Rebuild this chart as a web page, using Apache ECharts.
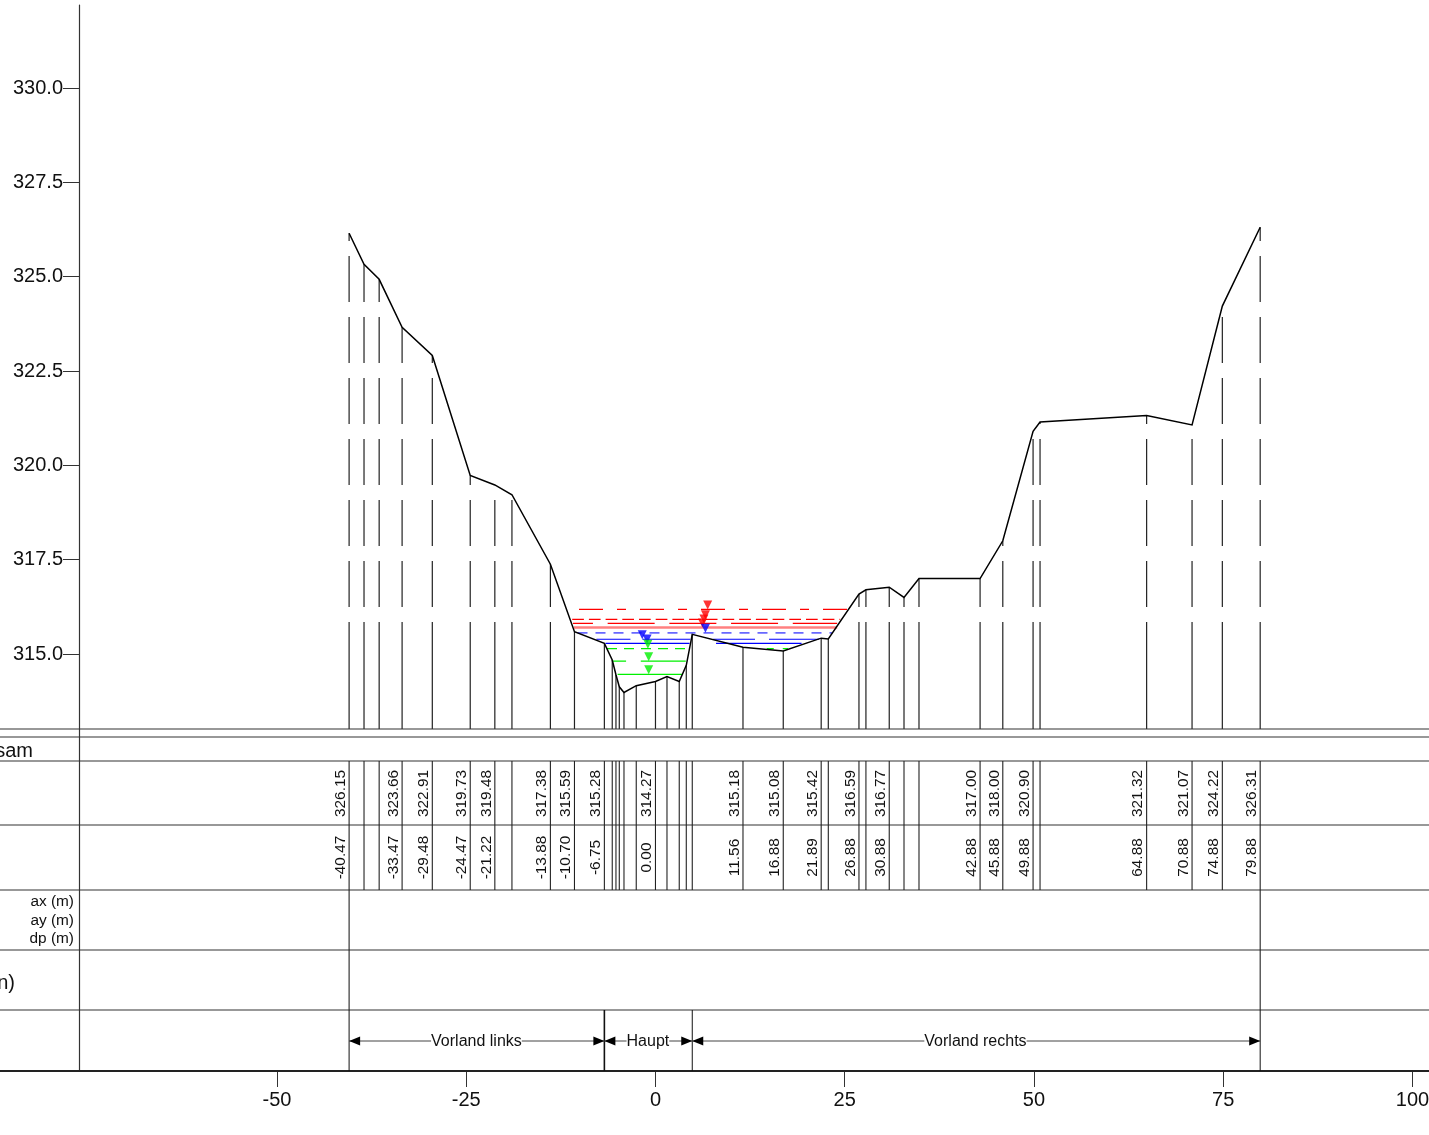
<!DOCTYPE html>
<html><head><meta charset="utf-8">
<style>html,body{margin:0;padding:0;background:#fff}#c{width:1429px;height:1135px}</style>
<script src="https://cdn.jsdelivr.net/npm/echarts@6/dist/echarts.min.js"></script>
</head><body><div id="c"></div>
<script>
// ---- cross-section data ----
const stations = [-40.47,-38.5,-36.5,-33.47,-29.48,-24.47,-21.22,-18.96,-13.88,-10.70,-6.75,-5.71,-5.22,-4.78,-4.16,-2.54,0.00,1.52,3.14,4.07,4.86,11.56,16.88,21.89,22.83,26.88,27.8,30.88,32.83,34.81,42.88,45.88,49.88,50.8,64.88,70.88,74.88,79.88];
const elevations = [326.15,325.33,324.93,323.66,322.91,319.73,319.48,319.22,317.38,315.59,315.28,314.84,314.45,314.13,313.98,314.16,314.27,314.4,314.27,314.7,315.52,315.18,315.08,315.42,315.4,316.59,316.7,316.77,316.5,317.0,317.00,318.00,320.90,321.15,321.32,321.07,324.22,326.31];
const labelStations = [-40.47,-33.47,-29.48,-24.47,-21.22,-13.88,-10.70,-6.75,0.00,11.56,16.88,21.89,26.88,30.88,42.88,45.88,49.88,64.88,70.88,74.88,79.88];
const labelElevations = ['326.15','323.66','322.91','319.73','319.48','317.38','315.59','315.28','314.27','315.18','315.08','315.42','316.59','316.77','317.00','318.00','320.90','321.32','321.07','324.22','326.31'];
const labelDistances = ['-40.47','-33.47','-29.48','-24.47','-21.22','-13.88','-10.70','-6.75','0.00','11.56','16.88','21.89','26.88','30.88','42.88','45.88','49.88','64.88','70.88','74.88','79.88'];
const yTicks = [315,317.5,320,322.5,325,327.5,330];
const xTicks = [-50,-25,0,25,50,75,100];
// water levels: [from station, to station, level]
const redLevels = [[-10.1,25.4,316.18],[-11,24.4,315.92],[-10.9,24,315.81],[-10.8,24,315.70]];
const blueLevel1 = [-10.3,23.4,315.56];
const blueLevel2 = [[-7.8,4.6,315.39],[7.6,21.6,315.39]];
const blueLevel3 = [[-6.6,4.5,315.28],[8.0,19.3,315.28]];
const greenLevel1 = [[-6.4,4.5,315.14],[14.7,17.5,315.14]];
const greenLevel2 = [-5.6,4.0,314.81];
const greenLevel3 = [-5.0,3.5,314.46];
const redMarks = [[6.9,316.18],[6.6,315.92],[6.4,315.81],[6.2,315.70]];
const blueMarks = [[6.6,315.56],[-1.75,315.39],[-1.1,315.28]];
const greenMarks = [[-1.0,315.14],[-0.9,314.81],[-0.9,314.46]];
const sections = [['Vorland links',-40.47,-6.75,-23.65],['Haupt',-6.75,4.86,-1.0],['Vorland rechts',4.86,79.88,42.27]];
const sectionBounds = [-40.47,-6.75,4.86,79.88];
const rowLines = [729,737,761,825,890,950,1010,1071];

// ---- plot geometry ----
const G_L=79, G_R=0, X_MIN=-76.15, X_MAX=102.18;
const Y_MIN=313.012, Y_MAX=332.2;
const TOP=5, PLOT_H=724, TABLE_TOP=729, TABLE_BOTTOM=1071;
const FONT='"Liberation Sans", Arial, sans-serif';
const INK='#111';
const GREEN='#00f000';

const profile = stations.map((x,i)=>[x,elevations[i]]);
const dropDash = [107,15,46,15,46,15,46,15,46,15,46,15,46,15,46,15,46,15,46,15,46,15];

function lev(pts,color,width,dash,offset){
  return {type:'line',xAxisIndex:0,yAxisIndex:0,data:pts,symbol:'none',silent:true,z:3,
    lineStyle:{color,width,type:dash||'solid',dashOffset:offset||0},animation:false};
}
function seg(s,color,width,dash,offset){return lev([[s[0],s[2]],[s[1],s[2]]],color,width,dash,offset);}
function marks(d,color){
  return {type:'scatter',xAxisIndex:0,yAxisIndex:0,data:d,symbol:'triangle',symbolSize:[9,9],symbolRotate:180,
    symbolOffset:[0,-4.5],itemStyle:{color},z:4,silent:true,animation:false};
}

const series = [
  {type:'custom',xAxisIndex:0,yAxisIndex:0,data:profile,z:2,silent:true,animation:false,clip:false,
    renderItem(p,api){
      const a=api.coord([api.value(0),Y_MIN]), b=api.coord([api.value(0),api.value(1)]);
      return {type:'line',shape:{x1:a[0],y1:a[1],x2:b[0],y2:b[1]},
        style:{stroke:'#222',lineWidth:1.2,lineDash:dropDash,fill:null}};
    }},
  seg(redLevels[0],'#ff0000',1.2,[24,14,9,14]),
  seg(redLevels[1],'#ff0000',1.2,[11.7,5]),
  seg(redLevels[2],'#ff0000',1.2,[47,14.7],27),
  seg(redLevels[3],'#ff8080',2.5),
  seg(blueLevel1,'#6868ff',1.8,[10,8]),
  seg(blueLevel2[0],'#0000ff',1.2,[34,12,50,12]),
  seg(blueLevel2[1],'#0000ff',1.2,[42,14,51,14]),
  seg(blueLevel3[0],'#0000ff',1.2),
  seg(blueLevel3[1],'#0000ff',1.2),
  seg(greenLevel1[0],GREEN,1.3,[10,7]),
  seg(greenLevel1[1],GREEN,1.3,[7,9]),
  seg(greenLevel2,GREEN,1.3,[13,14.7,46,14.7]),
  seg(greenLevel3,GREEN,1.3),
  marks(redMarks,'#ff0000'),
  marks(blueMarks,'#0000ff'),
  marks(greenMarks,GREEN),
  {type:'line',xAxisIndex:0,yAxisIndex:0,data:profile,symbol:'none',silent:true,z:6,animation:false,
    lineStyle:{color:'#000',width:1.5,join:'miter'}},

  {type:'custom',xAxisIndex:1,yAxisIndex:1,data:rowLines.map(v=>[0,v]),z:2,silent:true,animation:false,clip:false,
    renderItem(p,api){
      const v=api.value(1), y=api.coord([0,v])[1];
      return {type:'line',shape:{x1:-10,y1:y,x2:1440,y2:y},style:{stroke:v===1071?'#222':'#333',lineWidth:v===1071?2:1.2}};
    }},
  {type:'custom',xAxisIndex:1,yAxisIndex:1,data:stations.map(v=>[v,761]),z:2,silent:true,animation:false,
    renderItem(p,api){
      const x=api.coord([api.value(0),761])[0];
      const y1=api.coord([0,761])[1], y2=api.coord([0,890])[1];
      return {type:'line',shape:{x1:x,y1:y1,x2:x,y2:y2},style:{stroke:'#222',lineWidth:1.1}};
    }},
  {type:'custom',xAxisIndex:1,yAxisIndex:1,data:[[-40.47,890,1010],[79.88,890,1010]],z:2,silent:true,animation:false,
    renderItem(p,api){
      const a=api.coord([api.value(0),api.value(1)]), b=api.coord([api.value(0),api.value(2)]);
      return {type:'line',shape:{x1:a[0],y1:a[1],x2:b[0],y2:b[1]},style:{stroke:'#222',lineWidth:1.1}};
    }},
  {type:'custom',xAxisIndex:1,yAxisIndex:1,data:sectionBounds.map(v=>[v,1010]),z:2,silent:true,animation:false,
    renderItem(p,api){
      const a=api.coord([api.value(0),1010]), b=api.coord([api.value(0),1071]);
      return {type:'line',shape:{x1:a[0],y1:a[1],x2:b[0],y2:b[1]},style:{stroke:'#111',lineWidth:p.dataIndex==1?1.6:1}};
    }},
  {type:'custom',xAxisIndex:1,yAxisIndex:1,data:labelStations.map(v=>[v,793.5]),z:5,silent:true,animation:false,
    renderItem(p,api){
      const c=api.coord([api.value(0),api.value(1)]);
      return {type:'text',x:c[0]-8.5,y:c[1],rotation:Math.PI/2,
        style:{text:labelElevations[p.dataIndex],font:'15.4px '+FONT,fill:INK,align:'center',verticalAlign:'middle'}};
    }},
  {type:'custom',xAxisIndex:1,yAxisIndex:1,data:labelStations.map(v=>[v,857.5]),z:5,silent:true,animation:false,
    renderItem(p,api){
      const c=api.coord([api.value(0),api.value(1)]);
      return {type:'text',x:c[0]-8.5,y:c[1],rotation:Math.PI/2,
        style:{text:labelDistances[p.dataIndex],font:'15.4px '+FONT,fill:INK,align:'center',verticalAlign:'middle'}};
    }},
  {type:'custom',xAxisIndex:1,yAxisIndex:1,data:sections.map(s=>[s[1],s[2],s[3]]),z:5,silent:true,animation:false,
    renderItem(p,api){
      const a=api.coord([api.value(0),1041]), b=api.coord([api.value(1),1041]), m=api.coord([api.value(2),1041]);
      const y=a[1],L=11,H=4.5;
      return {type:'group',children:[
        {type:'line',shape:{x1:a[0],y1:y,x2:b[0],y2:y},style:{stroke:'#444',lineWidth:1}},
        {type:'polygon',shape:{points:[[a[0],y],[a[0]+L,y-H],[a[0]+L,y+H]]},style:{fill:'#000'}},
        {type:'polygon',shape:{points:[[b[0],y],[b[0]-L,y-H],[b[0]-L,y+H]]},style:{fill:'#000'}},
        {type:'text',x:m[0],y:y+1,style:{text:sections[p.dataIndex][0],font:'16px '+FONT,fill:INK,align:'center',verticalAlign:'middle',
          backgroundColor:'#fff'}}
      ]};
    }}
];

const option = {
  animation:false,
  backgroundColor:'#fff',
  grid:[
    {left:G_L,right:G_R,top:TOP,height:PLOT_H,containLabel:false,outerBoundsMode:'none'},
    {left:G_L,right:G_R,top:TABLE_TOP,height:TABLE_BOTTOM-TABLE_TOP,containLabel:false,outerBoundsMode:'none'}
  ],
  xAxis:[
    {type:'value',gridIndex:0,min:X_MIN,max:X_MAX,show:false},
    {type:'value',gridIndex:1,min:X_MIN,max:X_MAX,position:'bottom',
      axisLine:{show:true,onZero:false,lineStyle:{color:'#222',width:2}},
      axisTick:{show:true,length:16,lineStyle:{color:'#333',width:1},customValues:xTicks},
      axisLabel:{show:true,margin:19,fontSize:20,fontFamily:FONT,color:INK,customValues:xTicks,hideOverlap:false,
        formatter:v=>String(v)},
      splitLine:{show:false}}
  ],
  yAxis:[
    {type:'value',gridIndex:0,min:Y_MIN,max:Y_MAX,position:'left',
      axisLine:{show:true,onZero:false,lineStyle:{color:'#333',width:1.2}},
      axisTick:{show:true,length:16,lineStyle:{color:'#333',width:1},customValues:yTicks},
      axisLabel:{show:true,margin:16,fontSize:20,fontFamily:FONT,color:INK,customValues:yTicks,formatter:v=>v.toFixed(1)},
      splitLine:{show:false}},
    {type:'value',gridIndex:1,min:TABLE_TOP,max:TABLE_BOTTOM,inverse:true,position:'left',
      axisLine:{show:true,onZero:false,lineStyle:{color:'#333',width:1.2}},
      axisTick:{show:false},axisLabel:{show:false},splitLine:{show:false}}
  ],
  graphic:[
    {type:'text',x:33,y:751,style:{text:'sam',font:'20px '+FONT,fill:INK,align:'right',verticalAlign:'middle'}},
    {type:'text',x:74,y:902,style:{text:'ax (m)',font:'15.4px '+FONT,fill:INK,align:'right',verticalAlign:'middle'}},
    {type:'text',x:74,y:921,style:{text:'ay (m)',font:'15.4px '+FONT,fill:INK,align:'right',verticalAlign:'middle'}},
    {type:'text',x:74,y:939,style:{text:'dp (m)',font:'15.4px '+FONT,fill:INK,align:'right',verticalAlign:'middle'}},
    {type:'text',x:15,y:983,style:{text:'n)',font:'20px '+FONT,fill:INK,align:'right',verticalAlign:'middle'}}
  ],
  series
};
const chart = echarts.init(document.getElementById('c'),null,{renderer:'canvas'});
chart.setOption(option);
</script></body></html>
